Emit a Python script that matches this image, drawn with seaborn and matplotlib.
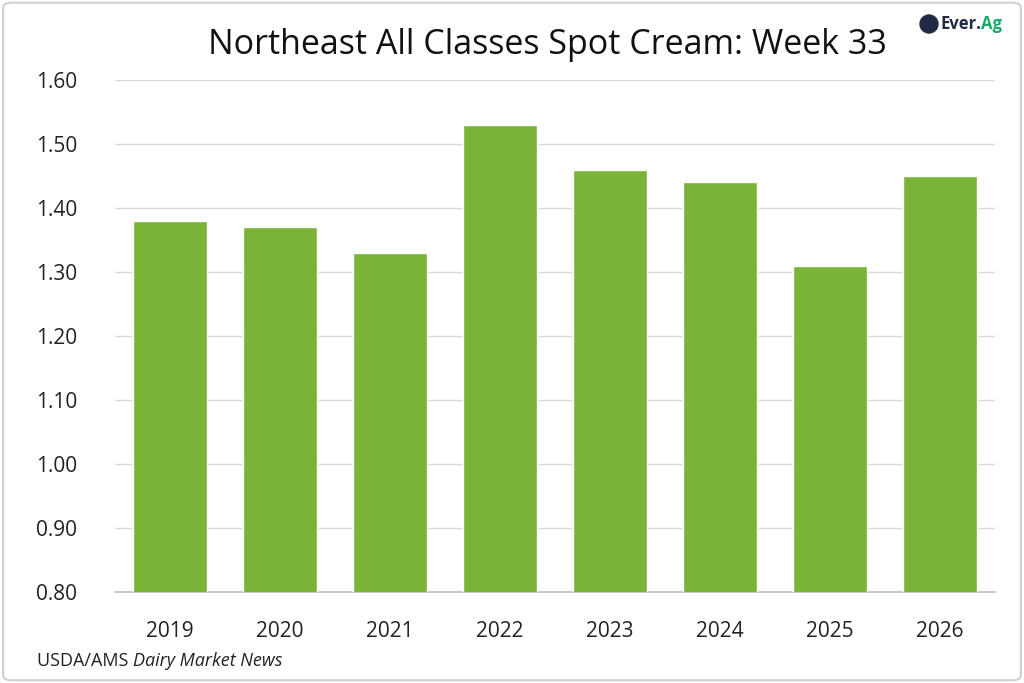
import matplotlib
matplotlib.use("Agg")
import matplotlib.pyplot as plt
import seaborn as sns
import pandas as pd
from matplotlib.patches import FancyBboxPatch, Ellipse

years = ["2019", "2020", "2021", "2022", "2023", "2024", "2025", "2026"]
prices = [1.38, 1.37, 1.33, 1.53, 1.46, 1.44, 1.31, 1.45]
y_ticks = [0.80, 0.90, 1.00, 1.10, 1.20, 1.30, 1.40, 1.50, 1.60]

df = pd.DataFrame({"year": years, "price": prices})

sns.set_style("white")
plt.rcParams['font.family'] = ['Open Sans', 'DejaVu Sans']

fig = plt.figure(figsize=(10.24, 6.83), dpi=100)
ax = fig.add_axes([0.1123, 0.1332, 0.8594, 0.7497])

sns.barplot(data=df, x="year", y="price", color="#7AB338", width=0.67,
            saturation=1, ax=ax, zorder=3)

ax.set_ylim(0.80, 1.60)
ax.set_xlim(-0.5, 7.5)
ax.set_yticks(y_ticks)
ax.set_yticklabels([f"{v:.2f}" for v in y_ticks])
ax.yaxis.grid(True, color="#D9D9D9", linewidth=1, zorder=0)
ax.set_axisbelow(True)
for s in ["top", "right", "left"]:
    ax.spines[s].set_visible(False)
ax.spines["bottom"].set_color("#BFBFBF")
ax.spines["bottom"].set_linewidth(1.2)
ax.tick_params(axis="both", length=0, labelsize=15, colors="#222222")
ax.tick_params(axis="x", pad=21)
ax.tick_params(axis="y", pad=27)
ax.set_xlabel("")
ax.set_ylabel("")

fig.text(0.535, 0.934, "Northeast All Classes Spot Cream: Week 33",
         ha="center", va="center", fontsize=24.5, color="#111111")

fig.canvas.draw()
renderer = fig.canvas.get_renderer()

src1 = fig.text(0.036, 0.032, "USDA/AMS ", fontsize=13, color="#222222",
                ha="left", va="center")
bb = src1.get_window_extent(renderer)
fig.text(bb.x1 / fig.bbox.width, 0.032, "Dairy Market News", fontsize=13,
         color="#222222", ha="left", va="center", style="italic")

# logo
fig.patches.append(Ellipse((929 / 1024, 1 - 24 / 683), 18 / 1024, 18 / 683,
                           transform=fig.transFigure, color="#1F2A44", zorder=5))
lg1 = fig.text(940 / 1024, 1 - 24 / 683, "Ever.", fontsize=12,
               fontweight="bold", color="#1F2A44", ha="left", va="center")
bb = lg1.get_window_extent(renderer)
fig.text(bb.x1 / fig.bbox.width, 1 - 24 / 683, "Ag", fontsize=12,
         fontweight="bold", color="#1BAA6B", ha="left", va="center")

# frame
fig.patches.append(FancyBboxPatch((0.003, 0.004), 0.994, 0.992,
                                  boxstyle="round,pad=0,rounding_size=0.008",
                                  transform=fig.transFigure, fill=False,
                                  edgecolor="#D0D0D0", linewidth=1.5))

fig.savefig("out.png", dpi=100)
